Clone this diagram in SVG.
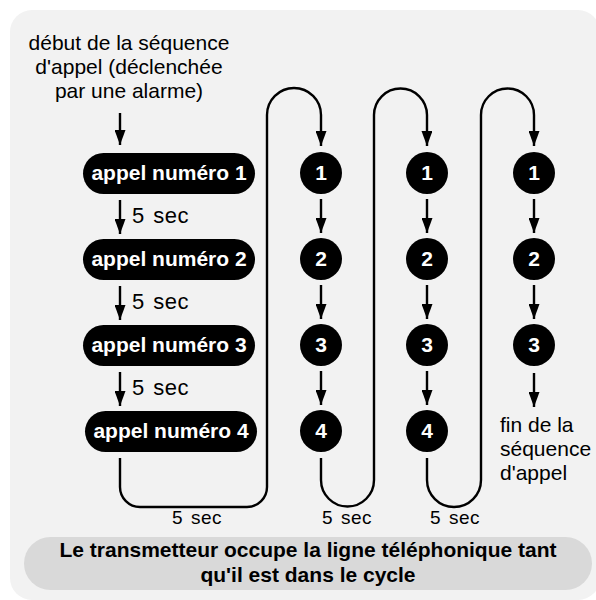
<svg xmlns="http://www.w3.org/2000/svg" width="596" height="600" viewBox="0 0 596 600">
<defs>
<marker id="ah" viewBox="0 0 15 11" refX="15" refY="5.5" markerWidth="15" markerHeight="11" markerUnits="userSpaceOnUse" orient="auto">
<path d="M0,0 L15,5.5 L0,11 Z" fill="#000"/>
</marker>
<style>
text{font-family:"Liberation Sans",Arial,Helvetica,sans-serif;fill:#000}
.lbl{font-size:21px}
.pill{fill:#000}
.pt{font-size:21px;font-weight:bold;fill:#fff;text-anchor:middle}
.ct{font-size:21px;font-weight:bold;fill:#fff;text-anchor:middle}
.sec{font-size:22px;word-spacing:2px;letter-spacing:0.5px}
.bsec{font-size:19px;text-anchor:middle;word-spacing:2px;letter-spacing:0.5px}
.ar{fill:none;stroke:#000;stroke-width:2.4;marker-end:url(#ah)}
</style>
</defs>
<rect x="10" y="10" width="590" height="590" rx="22" fill="#f2f2f2"/>
<g id="start-label">
<text class="lbl" text-anchor="middle"><tspan x="129" y="50">début de la séquence</tspan><tspan x="129" y="74">d'appel (déclenchée</tspan><tspan x="129" y="98">par une alarme)</tspan></text>
</g>
<g id="appel1"><rect class="pill" x="83" y="153" width="172" height="41" rx="20.5"/><text class="pt" x="169" y="180">appel numéro 1</text></g>
<g id="appel2"><rect class="pill" x="83" y="239" width="172" height="41" rx="20.5"/><text class="pt" x="169" y="266">appel numéro 2</text></g>
<g id="appel3"><rect class="pill" x="83" y="325" width="172" height="41" rx="20.5"/><text class="pt" x="169" y="352">appel numéro 3</text></g>
<g id="appel4"><rect class="pill" x="85" y="411" width="172" height="41" rx="20.5"/><text class="pt" x="171" y="438">appel numéro 4</text></g>
<g id="c1-1"><circle cx="321" cy="173" r="21"/><text class="ct" x="321" y="180">1</text></g>
<g id="c1-2"><circle cx="321" cy="259" r="21"/><text class="ct" x="321" y="266">2</text></g>
<g id="c1-3"><circle cx="321" cy="345" r="21"/><text class="ct" x="321" y="352">3</text></g>
<g id="c1-4"><circle cx="321" cy="431" r="21"/><text class="ct" x="321" y="438">4</text></g>
<g id="c2-1"><circle cx="427" cy="173" r="21"/><text class="ct" x="427" y="180">1</text></g>
<g id="c2-2"><circle cx="427" cy="259" r="21"/><text class="ct" x="427" y="266">2</text></g>
<g id="c2-3"><circle cx="427" cy="345" r="21"/><text class="ct" x="427" y="352">3</text></g>
<g id="c2-4"><circle cx="427" cy="431" r="21"/><text class="ct" x="427" y="438">4</text></g>
<g id="c3-1"><circle cx="534" cy="173" r="21"/><text class="ct" x="534" y="180">1</text></g>
<g id="c3-2"><circle cx="534" cy="259" r="21"/><text class="ct" x="534" y="266">2</text></g>
<g id="c3-3"><circle cx="534" cy="345" r="21"/><text class="ct" x="534" y="352">3</text></g>
<g id="end-label">
<text class="lbl"><tspan x="500" y="432">fin de la</tspan><tspan x="500" y="456">séquence</tspan><tspan x="500" y="480">d'appel</tspan></text>
</g>
<g id="connectors">
<path class="ar" d="M120,113 V145"/>
<path class="ar" d="M120,200 V234"/>
<path class="ar" d="M120,286 V320"/>
<path class="ar" d="M120,372 V406"/>
<path class="ar" d="M120,458 V487 A20,20 0 0 0 140,507 H247 A20,20 0 0 0 267,487 V115 A27,27 0 0 1 321,115 V146"/>
<path class="ar" d="M321,199 V233"/>
<path class="ar" d="M321,285 V319"/>
<path class="ar" d="M321,371 V405"/>
<path class="ar" d="M321,458 V480 A26.5,26.5 0 0 0 374,480 V115 A26.5,26.5 0 0 1 427,115 V146"/>
<path class="ar" d="M427,199 V233"/>
<path class="ar" d="M427,285 V319"/>
<path class="ar" d="M427,371 V405"/>
<path class="ar" d="M427,458 V480 A27,27 0 0 0 481,480 V115 A26.5,26.5 0 0 1 534,115 V146"/>
<path class="ar" d="M534,199 V233"/>
<path class="ar" d="M534,285 V319"/>
<path class="ar" d="M534,373 V407"/>
</g>
<g id="delays">
<text class="sec" x="132" y="223">5 sec</text>
<text class="sec" x="132" y="309">5 sec</text>
<text class="sec" x="132" y="395">5 sec</text>
<text class="bsec" x="197" y="524">5 sec</text>
<text class="bsec" x="347" y="524">5 sec</text>
<text class="bsec" x="455" y="524">5 sec</text>
</g>
<g id="note">
<rect x="24" y="537" width="568" height="53" rx="26.5" fill="#d9d9d9"/>
<text font-size="21" font-weight="bold" text-anchor="middle"><tspan x="308" y="557">Le transmetteur occupe la ligne téléphonique tant</tspan><tspan x="308" y="582">qu'il est dans le cycle</tspan></text>
</g>
</svg>
